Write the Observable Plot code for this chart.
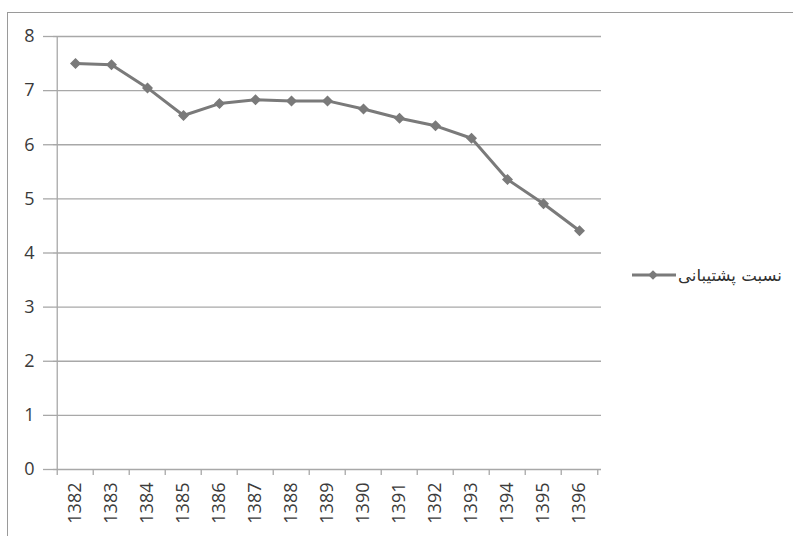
<!DOCTYPE html>
<html>
<head>
<meta charset="utf-8">
<script src="https://cdn.jsdelivr.net/npm/d3@7"></script>
<script src="https://cdn.jsdelivr.net/npm/@observablehq/plot@0.6"></script>
<style>
  html, body { margin: 0; padding: 0; background: #ffffff; }
  #wrap { position: relative; width: 793px; height: 536px; overflow: hidden; background: #fff; }
  #border { position: absolute; left: 7px; top: 12px; width: 900px; height: 600px; border-left: 1px solid #9a9a9a; border-top: 1px solid #9a9a9a; }
  #chart { position: absolute; left: 0; top: 0; }
  #legend { position: absolute; left: 630px; top: 260px; }
</style>
</head>
<body>
<div id="wrap">
  <div id="border"></div>
  <div id="chart"></div>
  <div id="legend"></div>
</div>
<script>
const years = ["1382","1383","1384","1385","1386","1387","1388","1389","1390","1391","1392","1393","1394","1395","1396"];
const values = [7.50, 7.48, 7.05, 6.54, 6.76, 6.83, 6.81, 6.81, 6.66, 6.49, 6.35, 6.12, 5.36, 4.91, 4.41];
const yTicks = [0, 1, 2, 3, 4, 5, 6, 7, 8];
const seriesName = "نسبت پشتیبانی";

const data = years.map((year, i) => ({year, value: values[i]}));

const W = 793, H = 536;
const mL = 53, mR = 192, mT = 36, mB = 67;
const step = (W - mL - mR) / years.length;
const unit = (H - mT - mB) / (yTicks[yTicks.length - 1] - yTicks[0]);
const lineColor = "#7a7a7a";
const gridColor = "#a8a8a8";
const textColor = "#3a3a3a";

const chart = Plot.plot({
  width: W,
  height: H,
  marginLeft: mL,
  marginRight: mR,
  marginTop: mT,
  marginBottom: mB,
  style: {fontFamily: "'Open Sans', sans-serif", fontSize: "18px", color: textColor, background: "transparent"},
  x: {type: "point", domain: years, padding: 0.5, align: 0.5, label: null},
  y: {domain: [0, 8], label: null},
  marks: [
    Plot.gridY(yTicks, {stroke: gridColor, strokeOpacity: 1, strokeWidth: 1.3}),
    Plot.axisY(yTicks, {tickSize: 10, tickPadding: 9, stroke: gridColor, strokeWidth: 1.3, fill: textColor, label: null, tickFormat: d => String(d)}),
    Plot.ruleX([years[0]], {dx: -step / 2, y1: 0, y2: 8, stroke: gridColor, strokeWidth: 1.3}),
    Plot.ruleX(years, {dx: -step / 2, y1: 0, y2: -6 / unit, stroke: gridColor, strokeWidth: 1.3, clip: false}),
    Plot.ruleX([years[years.length - 1]], {dx: step / 2, y1: 0, y2: -6 / unit, stroke: gridColor, strokeWidth: 1.3, clip: false}),
    Plot.axisX({tickRotate: -90, tickSize: 0, tickPadding: 13, fill: textColor, label: null}),
    Plot.line(data, {x: "year", y: "value", stroke: lineColor, strokeWidth: 3}),
    Plot.dot(data, {x: "year", y: "value", symbol: "diamond2", r: 4, fill: lineColor, stroke: lineColor})
  ]
});
document.getElementById("chart").appendChild(chart);

// legend
const ls = d3.select("#legend").append("svg").attr("width", 160).attr("height", 30);
ls.append("line").attr("x1", 2).attr("x2", 46).attr("y1", 15).attr("y2", 15).attr("stroke", lineColor).attr("stroke-width", 3);
ls.append("path").attr("d", d3.symbol(d3.symbolDiamond2, 60)()).attr("transform", "translate(23,15)").attr("fill", lineColor);
ls.append("text")
  .attr("x", 48).attr("y", 15).attr("dy", "0.35em")
  .attr("text-anchor", "start")
  .attr("textLength", 104).attr("lengthAdjust", "spacingAndGlyphs")
  .attr("font-family", "'DejaVu Sans', sans-serif").attr("font-size", 16)
  .attr("fill", "#303030")
  .text(seriesName);
</script>
</body>
</html>
